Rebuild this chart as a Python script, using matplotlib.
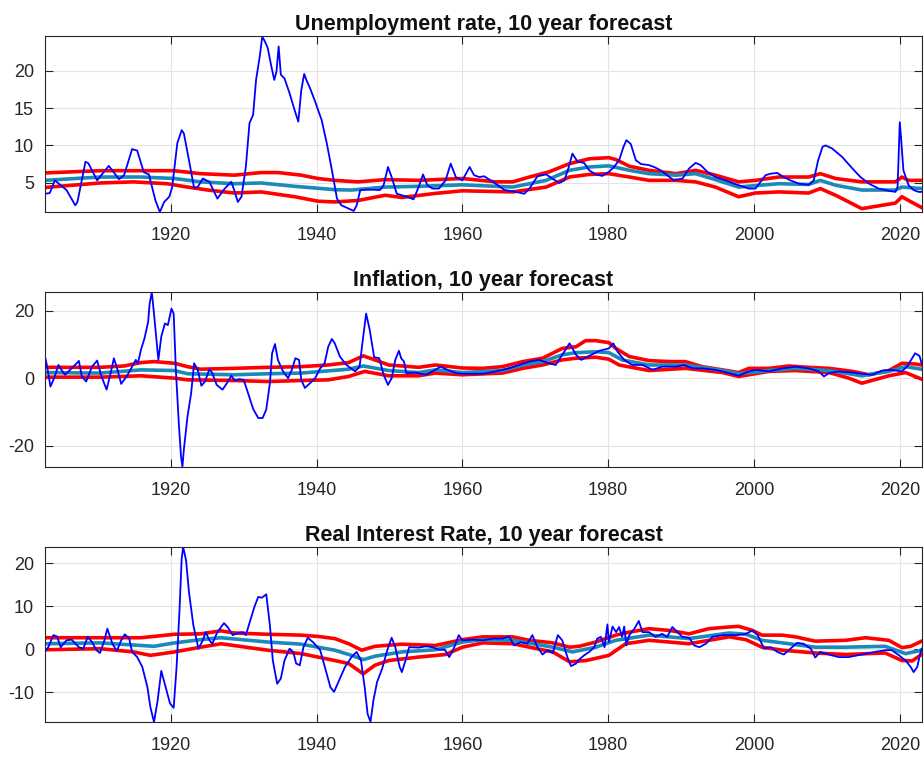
import matplotlib
matplotlib.use('Agg')
import matplotlib.pyplot as plt

# ---------------- data (year, value) ----------------
titles = ["Unemployment rate, 10 year forecast",
          "Inflation, 10 year forecast",
          "Real Interest Rate, 10 year forecast"]
x_ticks = [1920, 1940, 1960, 1980, 2000, 2020]
x_range = (1902.75, 2023.05)
y_ticks_unemp = [5, 10, 15, 20]
y_ticks_infl = [-20, 0, 20]
y_ticks_real = [-10, 0, 10, 20]
y_range_unemp = (1.05, 24.7)
y_range_infl = (-26.3, 25.5)
y_range_real = (-16.9, 23.8)

unemp_actual = [
    (1902.8, 3.5), (1903.4, 3.6), (1904.1, 5.3), (1905.7, 4.0), (1906.9, 1.95), (1907.2, 2.4),
    (1908.3, 7.8), (1908.7, 7.6), (1909.9, 5.3), (1911.5, 7.25), (1912.9, 5.45), (1913.6, 6.0),
    (1914.7, 9.5), (1915.4, 9.3), (1916.3, 6.4), (1917.0, 6.1), (1917.9, 2.6), (1918.5, 1.05),
    (1919.1, 2.4), (1919.8, 3.1), (1920.2, 4.4), (1920.9, 10.3), (1921.5, 12.05), (1921.8, 11.6),
    (1922.5, 8.0), (1923.2, 4.3), (1923.7, 4.4), (1924.4, 5.55), (1925.3, 5.1), (1926.4, 2.85),
    (1927.4, 4.2), (1928.3, 5.1), (1928.7, 4.0), (1929.2, 2.4), (1929.7, 3.1), (1930.3, 7.1),
    (1930.8, 13.0), (1931.3, 14.1), (1931.7, 18.8), (1932.2, 21.9), (1932.55, 24.6), (1932.9, 24.0),
    (1933.3, 23.1), (1933.8, 20.6), (1934.2, 18.8), (1934.5, 19.9), (1934.8, 23.3), (1935.1, 19.5),
    (1935.6, 19.0), (1936.3, 17.0), (1937.0, 14.7), (1937.5, 13.2), (1937.9, 17.4), (1938.3, 19.6),
    (1938.6, 18.8), (1939.1, 17.7), (1939.8, 15.9), (1940.7, 13.4), (1941.4, 10.3), (1942.1, 6.7),
    (1942.8, 2.85), (1943.4, 1.95), (1944.4, 1.5), (1945.1, 1.2), (1945.5, 1.95), (1946.0, 4.0),
    (1946.7, 4.05), (1947.6, 4.05), (1948.7, 4.0), (1949.2, 4.65), (1949.8, 7.1), (1950.3, 5.75),
    (1951.0, 3.5), (1951.7, 3.3), (1952.4, 3.1), (1953.3, 2.75), (1954.0, 4.4), (1954.6, 6.1),
    (1955.2, 4.65), (1955.9, 4.2), (1956.8, 4.2), (1957.7, 5.3), (1958.4, 7.55), (1959.1, 5.75),
    (1960.0, 5.3), (1960.5, 6.2), (1961.0, 7.1), (1961.6, 6.0), (1962.3, 5.75), (1963.0, 5.85),
    (1964.2, 5.1), (1965.8, 4.0), (1967.4, 3.75), (1968.5, 3.5), (1969.2, 4.2), (1970.3, 5.85),
    (1971.5, 6.1), (1972.4, 5.5), (1973.3, 4.95), (1974.0, 5.3), (1974.6, 7.1), (1975.1, 8.9),
    (1975.8, 7.8), (1976.7, 7.65), (1977.4, 6.65), (1978.3, 6.1), (1979.2, 5.9), (1980.1, 6.45),
    (1980.8, 7.1), (1981.5, 8.0), (1982.1, 9.8), (1982.5, 10.7), (1983.1, 10.2), (1983.8, 8.0),
    (1984.5, 7.5), (1985.6, 7.35), (1986.3, 7.1), (1987.2, 6.65), (1988.1, 6.0), (1989.0, 5.3),
    (1990.2, 5.55), (1991.1, 6.9), (1992.0, 7.65), (1992.7, 7.35), (1993.6, 6.45), (1994.7, 5.75),
    (1996.1, 5.3), (1997.3, 4.85), (1998.4, 4.5), (1999.3, 4.2), (2000.2, 4.2), (2000.9, 5.1),
    (2001.6, 6.0), (2002.3, 6.2), (2003.2, 6.3), (2003.9, 5.85), (2005.0, 5.3), (2006.2, 4.85),
    (2007.5, 4.7), (2008.2, 5.3), (2008.8, 8.0), (2009.4, 9.8), (2009.8, 10.0), (2010.7, 9.6),
    (2012.1, 8.45), (2013.5, 6.9), (2014.6, 5.75), (2015.8, 4.85), (2017.1, 4.2), (2018.5, 3.9),
    (2019.4, 3.75), (2019.7, 4.4), (2020.0, 13.1), (2020.2, 10.7), (2020.5, 6.65), (2021.2, 4.65),
    (2021.9, 4.0), (2022.6, 3.75), (2023.0, 3.75)]

unemp_upper = [
    (1902.76, 6.3), (1910.3, 6.6), (1915.9, 6.6), (1920.5, 6.6), (1924.1, 6.2), (1928.7, 6.0),
    (1932.4, 6.35), (1934.7, 6.35), (1937.9, 6.0), (1940.2, 5.55), (1942.5, 5.3), (1945.7, 5.1),
    (1949.4, 5.4), (1954.0, 5.3), (1960.0, 5.55), (1964.6, 5.1), (1966.9, 5.1), (1969.2, 5.75),
    (1971.9, 6.45), (1974.7, 7.55), (1977.4, 8.2), (1980.1, 8.35), (1981.05, 8.1), (1982.9, 7.2),
    (1985.6, 6.65), (1989.3, 6.2), (1992.0, 6.65), (1994.7, 6.0), (1997.9, 5.1), (2000.2, 5.3),
    (2003.4, 5.75), (2007.5, 5.75), (2009.1, 6.2), (2011.2, 5.55), (2014.8, 5.1), (2019.4, 5.1),
    (2020.3, 5.75), (2021.2, 5.3), (2023.0, 5.3)]

unemp_median = [
    (1902.76, 5.3), (1910.3, 5.75), (1915.9, 5.75), (1920.5, 5.55), (1924.1, 5.1), (1928.7, 4.85),
    (1932.4, 4.95), (1937.0, 4.5), (1942.5, 4.05), (1944.8, 4.0), (1949.4, 4.4), (1954.0, 4.5),
    (1960.0, 4.7), (1966.9, 4.4), (1971.5, 5.3), (1974.7, 6.65), (1977.4, 7.1), (1980.1, 7.25),
    (1982.9, 6.65), (1985.6, 6.2), (1989.3, 6.0), (1992.0, 6.2), (1994.7, 5.4), (1997.9, 4.4),
    (2000.2, 4.6), (2003.4, 4.85), (2007.5, 4.75), (2009.1, 5.3), (2011.2, 4.65), (2014.8, 4.0),
    (2019.4, 4.0), (2020.3, 4.4), (2023.0, 4.2)]

unemp_lower = [
    (1902.76, 4.35), (1910.3, 4.95), (1914.9, 5.1), (1919.5, 4.85), (1922.3, 4.4), (1925.1, 4.0),
    (1928.7, 3.6), (1932.4, 3.75), (1937.0, 3.1), (1940.2, 2.5), (1942.5, 2.4), (1945.7, 2.6),
    (1949.4, 3.3), (1951.7, 3.0), (1956.3, 3.55), (1960.0, 3.9), (1966.9, 3.75), (1971.5, 4.4),
    (1974.7, 5.75), (1977.4, 6.1), (1980.1, 6.2), (1982.9, 5.75), (1985.6, 5.3), (1989.3, 5.3),
    (1992.0, 5.1), (1994.7, 4.4), (1997.9, 3.1), (2000.2, 3.6), (2003.4, 3.75), (2007.5, 3.6),
    (2009.1, 4.2), (2011.2, 3.3), (2013.0, 2.4), (2014.8, 1.5), (2019.4, 2.25), (2020.3, 3.1),
    (2021.2, 2.6), (2023.0, 1.65)]

infl_actual = [
    (1902.8, 5.9), (1903.0, 3.9), (1903.5, -2.5), (1904.0, 0.0), (1904.6, 3.9), (1905.0, 2.45),
    (1905.5, 1.0), (1906.4, 2.9), (1907.4, 5.1), (1907.8, 0.5), (1908.4, -1.0), (1909.2, 3.4),
    (1909.9, 5.2), (1910.5, 0.5), (1911.2, -3.4), (1911.7, 1.0), (1912.2, 5.9), (1912.7, 2.45),
    (1913.2, -1.7), (1914.0, 0.7), (1914.7, 3.4), (1915.2, 5.4), (1915.5, 4.4), (1915.9, 8.3),
    (1916.4, 11.8), (1916.9, 16.7), (1917.1, 22.0), (1917.4, 25.5), (1917.7, 19.1), (1918.3, 5.4),
    (1918.7, 12.3), (1919.2, 16.2), (1919.6, 15.7), (1920.1, 20.6), (1920.4, 19.1), (1920.7, 2.45),
    (1921.1, -13.2), (1921.4, -23.0), (1921.6, -26.2), (1921.8, -21.1), (1922.3, -11.3),
    (1922.8, -4.4), (1923.2, 4.4), (1923.7, 2.45), (1924.2, -2.25), (1924.7, -1.0), (1925.3, 2.65),
    (1925.7, 1.5), (1926.3, -2.0), (1927.1, -3.4), (1927.7, -1.5), (1928.3, 0.7), (1928.8, -0.7),
    (1929.4, -0.3), (1930.0, -0.5), (1930.6, -4.4), (1931.3, -9.1), (1932.0, -11.8),
    (1932.6, -11.8), (1933.1, -9.3), (1933.6, -1.5), (1933.9, 7.35), (1934.3, 10.1), (1934.7, 5.4),
    (1935.4, 2.0), (1936.1, 0.0), (1936.6, 2.45), (1937.1, 5.9), (1937.6, 5.4), (1937.9, -0.5),
    (1938.4, -2.9), (1939.1, -1.5), (1939.8, 0.0), (1940.5, 2.9), (1941.1, 4.4), (1941.6, 9.3),
    (1942.1, 11.6), (1942.5, 10.3), (1943.2, 6.4), (1944.1, 3.9), (1945.3, 2.0), (1945.9, 3.4),
    (1946.4, 12.3), (1946.8, 19.1), (1947.3, 14.2), (1947.9, 6.2), (1948.6, 5.9), (1949.2, 1.0),
    (1949.8, -2.0), (1950.3, 0.0), (1950.8, 5.4), (1951.3, 8.1), (1951.6, 5.9), (1952.0, 4.9),
    (1952.3, 1.5), (1953.6, 1.65), (1955.0, 1.0), (1956.3, 2.45), (1957.0, 3.4), (1958.2, 2.25),
    (1959.1, 1.5), (1960.0, 1.3), (1962.8, 1.3), (1964.6, 2.0), (1966.4, 2.9), (1967.8, 3.9),
    (1969.2, 4.9), (1970.5, 5.4), (1971.9, 4.4), (1972.8, 3.9), (1973.7, 6.9), (1974.7, 10.3),
    (1975.6, 6.9), (1976.3, 5.4), (1977.4, 6.6), (1978.8, 8.1), (1980.1, 8.8), (1980.7, 10.3),
    (1981.3, 7.8), (1982.2, 5.4), (1983.3, 3.9), (1984.7, 3.9), (1986.1, 2.45), (1987.4, 3.4),
    (1989.3, 3.4), (1990.4, 3.9), (1991.6, 2.9), (1992.9, 2.9), (1994.7, 2.45), (1996.6, 1.5),
    (1997.9, 0.7), (1999.3, 2.0), (2000.2, 2.45), (2002.1, 2.0), (2003.9, 2.9), (2005.7, 3.4),
    (2007.5, 2.9), (2008.9, 2.0), (2009.6, 0.5), (2010.3, 1.5), (2011.6, 2.0), (2013.5, 1.65),
    (2014.8, 1.3), (2016.2, 1.0), (2017.6, 2.25), (2018.9, 2.45), (2020.3, 2.0), (2021.0, 3.4),
    (2021.7, 5.9), (2022.1, 7.35), (2022.7, 6.6), (2023.0, 4.4)]

infl_upper = [
    (1902.76, 3.2), (1910.3, 3.2), (1913.6, 3.6), (1915.9, 4.6), (1917.7, 4.9), (1920.5, 4.4),
    (1922.3, 3.4), (1924.1, 2.65), (1928.7, 2.9), (1933.3, 3.2), (1937.9, 3.4), (1941.6, 3.9),
    (1944.4, 4.6), (1946.4, 6.6), (1948.0, 5.4), (1949.9, 3.9), (1951.7, 3.6), (1954.0, 3.2),
    (1956.3, 3.9), (1960.0, 3.0), (1962.8, 2.9), (1965.5, 3.4), (1968.3, 4.9), (1971.0, 5.9),
    (1973.7, 8.8), (1975.6, 9.3), (1976.9, 11.1), (1978.3, 11.1), (1980.1, 10.5), (1981.05, 8.8),
    (1982.9, 6.4), (1985.6, 5.2), (1988.4, 4.9), (1990.6, 4.9), (1992.9, 3.4), (1995.7, 2.45),
    (1997.9, 1.65), (1999.3, 2.9), (2002.1, 2.9), (2004.8, 3.6), (2007.5, 3.2), (2010.3, 2.9),
    (2013.5, 2.0), (2015.8, 1.0), (2018.5, 2.25), (2020.3, 4.4), (2022.1, 4.2), (2023.0, 3.9)]

infl_median = [
    (1902.76, 1.65), (1910.3, 1.5), (1915.9, 2.45), (1920.5, 2.25), (1922.3, 1.3), (1928.7, 1.0),
    (1933.3, 1.3), (1937.9, 1.5), (1944.4, 2.65), (1946.4, 3.6), (1949.9, 2.25), (1954.0, 1.65),
    (1956.3, 2.45), (1960.0, 1.65), (1965.5, 2.25), (1968.3, 3.9), (1971.0, 4.9), (1973.7, 6.9),
    (1975.6, 7.55), (1978.3, 7.8), (1980.1, 7.55), (1981.9, 5.4), (1985.6, 3.9), (1990.6, 3.9),
    (1995.7, 2.25), (1997.9, 1.3), (2002.1, 2.25), (2005.7, 2.9), (2010.3, 2.25), (2014.8, 0.7),
    (2018.5, 2.0), (2020.8, 3.4), (2023.0, 2.65)]

infl_lower = [
    (1902.76, 0.3), (1910.3, 0.3), (1915.9, 0.7), (1920.5, 0.0), (1922.3, -0.5), (1928.7, -0.7),
    (1933.3, -1.0), (1937.9, -0.7), (1941.6, -0.5), (1944.4, 0.5), (1946.6, 2.0), (1949.9, 0.7),
    (1954.0, 0.7), (1956.3, 1.5), (1960.0, 1.0), (1965.5, 1.5), (1968.3, 2.9), (1971.0, 3.9),
    (1973.7, 5.4), (1975.6, 5.9), (1978.3, 6.2), (1980.1, 5.6), (1981.5, 3.9), (1985.6, 2.25),
    (1990.6, 2.9), (1995.7, 1.65), (1997.9, 0.5), (2002.1, 2.0), (2005.7, 2.25), (2010.3, 1.65),
    (2013.0, 0.0), (2014.8, -1.5), (2018.5, 0.7), (2020.8, 1.65), (2023.0, -0.3)]

real_actual = [
    (1902.8, -0.4), (1903.2, 0.5), (1903.9, 3.3), (1904.4, 3.0), (1904.9, 0.5), (1905.7, 2.1),
    (1906.4, 2.25), (1907.4, 0.5), (1908.0, 0.15), (1908.6, 2.9), (1909.2, 1.7), (1909.8, -0.2),
    (1910.3, -0.85), (1910.9, 2.1), (1911.3, 4.8), (1912.0, 1.3), (1912.6, -0.4), (1913.2, 2.1),
    (1913.7, 3.5), (1914.3, 2.5), (1914.7, -0.6), (1915.4, -1.8), (1916.1, -4.1), (1916.8, -8.8),
    (1917.2, -13.4), (1917.7, -16.9), (1918.2, -11.9), (1918.7, -5.0), (1919.3, -8.8),
    (1919.9, -12.6), (1920.4, -13.6), (1920.8, -4.1), (1921.2, 9.1), (1921.5, 21.1), (1921.7, 23.8),
    (1922.1, 20.7), (1922.5, 13.3), (1923.1, 5.6), (1923.8, 0.15), (1924.4, 2.1), (1924.8, 4.0),
    (1925.3, 2.1), (1925.7, 1.3), (1926.4, 4.0), (1927.3, 6.1), (1927.8, 5.2), (1928.5, 3.3),
    (1929.2, 3.8), (1929.9, 4.0), (1930.3, 3.3), (1930.9, 6.7), (1931.5, 10.0), (1932.0, 12.2),
    (1932.5, 12.0), (1933.1, 12.8), (1933.6, 5.6), (1934.0, -2.6), (1934.6, -8.0), (1935.1, -6.8),
    (1935.6, -2.6), (1936.3, 0.15), (1936.8, -0.6), (1937.2, -3.3), (1937.7, -3.7), (1938.2, 0.5),
    (1938.8, 2.7), (1939.5, 1.7), (1940.5, -0.2), (1941.4, -5.7), (1941.9, -8.8), (1942.4, -9.9),
    (1943.0, -7.6), (1943.9, -4.1), (1944.8, -1.8), (1945.5, -0.6), (1946.1, -2.6), (1946.6, -8.8),
    (1947.0, -15.0), (1947.4, -16.9), (1947.8, -11.9), (1948.3, -7.6), (1949.0, -4.5),
    (1949.7, -0.2), (1950.3, 2.7), (1950.8, 0.5), (1951.4, -4.1), (1951.7, -5.3), (1952.2, -2.6),
    (1952.7, 0.5), (1954.0, 0.4), (1955.0, 0.7), (1955.9, 0.5), (1956.8, -0.1), (1957.6, -0.1),
    (1958.2, -1.8), (1958.9, 0.5), (1959.5, 3.3), (1960.0, 2.1), (1961.4, 2.25), (1962.8, 2.1),
    (1964.2, 2.5), (1965.5, 2.5), (1966.4, 3.0), (1967.1, 0.9), (1968.0, 1.7), (1968.9, 1.3),
    (1969.6, 3.3), (1970.3, 0.5), (1971.0, -1.2), (1971.7, -0.2), (1972.4, -0.85), (1973.1, 3.3),
    (1973.7, 2.1), (1974.4, -1.8), (1974.9, -3.9), (1975.6, -3.3), (1976.0, -2.4), (1976.7, -1.4),
    (1977.4, -0.6), (1978.1, 0.5), (1978.5, 2.5), (1979.0, 2.9), (1979.5, 0.5), (1979.9, 5.8),
    (1980.1, 1.7), (1980.6, 5.3), (1981.1, 4.0), (1981.5, 5.2), (1981.9, 2.9), (1982.2, 5.3),
    (1982.5, 0.9), (1982.9, 3.3), (1983.6, 4.8), (1984.2, 6.6), (1984.7, 4.0), (1985.6, 4.0),
    (1986.5, 2.9), (1987.4, 3.6), (1988.1, 2.9), (1988.8, 5.2), (1989.5, 4.0), (1990.2, 2.9),
    (1991.1, 2.7), (1991.8, 0.9), (1992.5, 0.5), (1993.4, 1.3), (1994.3, 2.9), (1995.7, 3.3),
    (1997.5, 3.3), (1998.9, 3.6), (1999.8, 4.4), (2000.5, 3.3), (2001.4, 0.15), (2002.3, 0.5),
    (2003.2, -0.6), (2004.1, -1.2), (2005.0, 0.15), (2005.9, 1.5), (2006.8, 1.3), (2007.8, 0.15),
    (2008.4, -1.9), (2009.1, -0.6), (2009.8, -1.0), (2010.7, -1.4), (2011.6, -1.8), (2013.0, -1.8),
    (2014.8, -1.2), (2016.6, -0.6), (2018.0, -0.2), (2018.9, -0.2), (2019.9, -1.4), (2020.8, -2.6),
    (2021.5, -4.1), (2021.9, -5.3), (2022.4, -4.1), (2022.8, -1.0), (2023.0, 0.15)]

real_upper = [
    (1902.76, 2.7), (1910.3, 2.7), (1915.9, 2.7), (1917.7, 3.0), (1920.5, 3.5), (1924.1, 3.6),
    (1926.9, 4.3), (1928.7, 3.8), (1933.3, 3.5), (1937.9, 3.3), (1940.2, 3.0), (1942.5, 2.5),
    (1944.4, 1.3), (1946.2, -0.2), (1948.0, 0.7), (1951.7, 1.2), (1956.3, 0.9), (1960.0, 2.25),
    (1962.8, 2.9), (1966.9, 2.9), (1969.2, 2.1), (1972.4, 1.5), (1974.7, 0.5), (1976.0, 0.7),
    (1978.3, 1.7), (1981.05, 3.3), (1982.9, 4.0), (1985.6, 4.8), (1988.4, 4.4), (1991.1, 3.6),
    (1993.8, 4.8), (1996.6, 5.2), (1997.9, 5.35), (1999.8, 4.4), (2001.1, 3.3), (2003.9, 3.3),
    (2005.7, 2.9), (2008.4, 1.9), (2012.6, 2.1), (2015.3, 2.7), (2018.5, 2.1), (2020.3, 0.4),
    (2021.5, 0.7), (2023.0, 1.9)]

real_median = [
    (1902.76, 1.3), (1910.3, 1.5), (1915.9, 0.9), (1917.7, 0.7), (1920.5, 1.5), (1924.1, 2.25),
    (1926.9, 2.7), (1933.3, 1.7), (1937.9, 1.2), (1942.5, -0.2), (1944.8, -1.4), (1946.4, -2.4),
    (1948.0, -1.6), (1951.7, -0.6), (1956.3, -0.1), (1960.0, 1.7), (1962.8, 2.25), (1966.9, 2.1),
    (1972.4, 0.5), (1975.1, -0.6), (1978.3, 0.5), (1981.05, 2.1), (1985.6, 3.3), (1991.1, 2.5),
    (1996.6, 3.8), (1998.9, 3.5), (2001.1, 2.1), (2003.9, 1.5), (2008.4, 0.5), (2012.6, 0.5),
    (2018.0, 0.7), (2020.8, -1.0), (2023.0, -0.2)]

real_lower = [
    (1902.76, -0.1), (1910.3, 0.15), (1914.9, -0.6), (1917.2, -1.4), (1920.5, -0.6), (1924.1, 0.5),
    (1926.9, 1.3), (1933.3, -0.2), (1937.9, -1.0), (1942.5, -2.6), (1944.4, -3.3), (1946.4, -5.7),
    (1948.0, -3.7), (1949.9, -2.6), (1954.0, -1.8), (1957.7, -1.2), (1960.0, 0.5), (1962.8, 1.5),
    (1966.9, 1.3), (1972.4, -0.6), (1974.7, -2.9), (1977.0, -2.6), (1980.1, -1.4), (1982.4, 1.3),
    (1985.6, 2.1), (1991.1, 1.3), (1996.6, 2.9), (1998.9, 2.25), (2001.1, 0.5), (2003.9, -0.2),
    (2008.4, -0.85), (2012.6, -1.2), (2018.0, -0.85), (2020.3, -2.6), (2021.7, -2.7), (2023.0, -1.2)]

# ---------------- styling ----------------
plt.rcParams['font.family'] = ['Liberation Sans', 'DejaVu Sans']
plt.rcParams['axes.unicode_minus'] = False

BLUE = '#0000ff'
RED = '#ff0000'
TEAL = '#1a8ab8'
AX_COL = '#262626'

fig = plt.figure(figsize=(9.24, 7.57), dpi=100)
W, H = 924.0, 757.0
panel_px = [(45, 36, 922, 212), (45, 292, 922, 467), (45, 547, 922, 722)]

panels = [
    (unemp_actual, unemp_upper, unemp_median, unemp_lower, y_ticks_unemp, y_range_unemp),
    (infl_actual, infl_upper, infl_median, infl_lower, y_ticks_infl, y_range_infl),
    (real_actual, real_upper, real_median, real_lower, y_ticks_real, y_range_real),
]


def xy(pairs):
    return [p[0] for p in pairs], [p[1] for p in pairs]


for (l, t, r, b), title, (act, up, med, lo, yt, yr) in zip(panel_px, titles, panels):
    ax = fig.add_axes([l / W, 1 - b / H, (r - l) / W, (b - t) / H])
    ax.set_axisbelow(True)
    ax.grid(True, color='#e3e3e3', linewidth=0.8)
    for series, col, lw in ((up, RED, 2.6), (lo, RED, 2.6), (med, TEAL, 2.6), (act, BLUE, 1.3)):
        xs, ys = xy(series)
        ax.plot(xs, ys, color=col, linewidth=lw, solid_joinstyle='round')
    ax.set_xlim(*x_range)
    ax.set_ylim(*yr)
    ax.set_xticks(x_ticks)
    ax.set_yticks(yt)
    ax.tick_params(direction='in', top=True, right=True, length=6, width=0.8,
                   colors=AX_COL, labelsize=13)
    ax.tick_params(axis='x', pad=11)
    ax.tick_params(axis='y', pad=8)
    for s in ax.spines.values():
        s.set_color(AX_COL)
        s.set_linewidth(0.8)
    ax.set_title(title, fontsize=15.5, fontweight='bold', pad=4, color='#111111')

fig.savefig('out.png', dpi=100)
